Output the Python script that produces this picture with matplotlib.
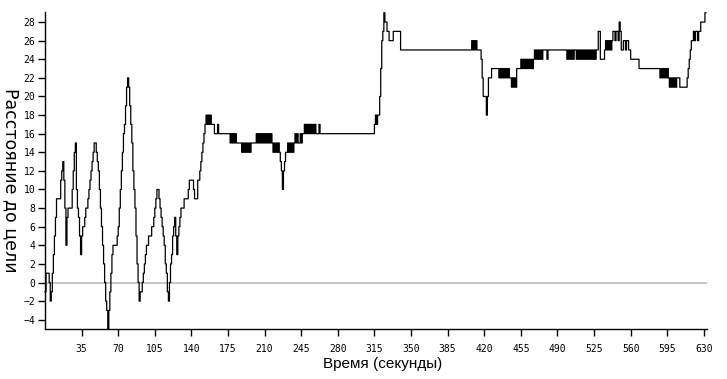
import numpy as np
import matplotlib.pyplot as plt

# distance to target, one value per second (t = 0 .. 632)
distance = [
    -1, 1, 1, 1, 0, -2, -1, 1, 3, 5,          # 0
    7, 9, 9, 9, 9, 11, 12, 13, 11, 8,         # 10
    4, 7, 8, 8, 8, 8, 10, 12, 14, 15,         # 20
    10, 8, 7, 5, 3, 5, 6, 6, 7, 8,            # 30
    8, 9, 10, 11, 12, 13, 14, 15, 15, 14,     # 40
    13, 12, 10, 8, 6, 4, 2, 0, -2, -3,        # 50
    -5, -3, -1, 1, 3, 4, 4, 4, 4, 5,          # 60
    6, 8, 10, 12, 14, 16, 17, 19, 21, 22,     # 70
    21, 19, 17, 15, 12, 10, 8, 5, 2, 0,       # 80
    -2, -1, -1, 0, 1, 2, 3, 4, 4, 5,          # 90
    5, 5, 6, 6, 7, 8, 9, 10, 10, 9,           # 100
    8, 7, 6, 5, 4, 2, 1, -1, -2, 0,           # 110
    2, 3, 5, 6, 7, 5, 3, 5, 6, 7,             # 120
    8, 8, 8, 9, 9, 9, 9, 10, 11, 11,          # 130
    11, 11, 10, 9, 9, 9, 11, 11, 12, 13,      # 140
    14, 15, 16, 17, 18, 17, 18, 17, 18, 17,   # 150
    17, 17, 16, 16, 16, 17, 16, 16, 16, 16,   # 160
    16, 16, 16, 16, 16, 16, 16, 15, 16, 15,   # 170
    16, 15, 16, 15, 15, 15, 15, 15, 14, 15,   # 180
    14, 15, 14, 15, 14, 15, 14, 15, 15, 15,   # 190
    15, 15, 16, 15, 16, 15, 16, 15, 16, 15,   # 200
    16, 15, 16, 15, 16, 15, 16, 15, 14, 15,   # 210
    14, 15, 14, 15, 14, 13, 12, 10, 12, 13,   # 220
    14, 14, 15, 14, 15, 14, 15, 14, 15, 16,   # 230
    15, 16, 15, 15, 16, 15, 16, 16, 17, 16,   # 240
    17, 16, 17, 16, 17, 16, 17, 16, 17, 16,   # 250
    16, 16, 17, 16, 16, 16, 16, 16, 16, 16,   # 260
    16, 16, 16, 16, 16, 16, 16, 16, 16, 16,   # 270
    16, 16, 16, 16, 16, 16, 16, 16, 16, 16,   # 280
    16, 16, 16, 16, 16, 16, 16, 16, 16, 16,   # 290
    16, 16, 16, 16, 16, 16, 16, 16, 16, 16,   # 300
    16, 16, 16, 16, 16, 17, 18, 17, 18, 18,   # 310
    20, 23, 26, 27, 29, 28, 28, 27, 27, 26,   # 320
    26, 26, 26, 27, 27, 27, 27, 27, 27, 27,   # 330
    25, 25, 25, 25, 25, 25, 25, 25, 25, 25,   # 340
    25, 25, 25, 25, 25, 25, 25, 25, 25, 25,   # 350
    25, 25, 25, 25, 25, 25, 25, 25, 25, 25,   # 360
    25, 25, 25, 25, 25, 25, 25, 25, 25, 25,   # 370
    25, 25, 25, 25, 25, 25, 25, 25, 25, 25,   # 380
    25, 25, 25, 25, 25, 25, 25, 25, 25, 25,   # 390
    25, 25, 25, 25, 25, 25, 25, 25, 26, 25,   # 400
    26, 25, 26, 25, 25, 25, 25, 24, 22, 20,   # 410
    20, 20, 18, 20, 22, 22, 22, 23, 23, 23,   # 420
    23, 23, 23, 23, 22, 23, 22, 23, 22, 23,   # 430
    22, 23, 22, 23, 22, 22, 21, 22, 21, 22,   # 440
    21, 23, 23, 23, 23, 24, 23, 24, 23, 24,   # 450
    23, 24, 23, 24, 23, 24, 23, 24, 25, 24,   # 460
    25, 24, 25, 24, 25, 24, 25, 25, 25, 25,   # 470
    24, 25, 25, 25, 25, 25, 25, 25, 25, 25,   # 480
    25, 25, 25, 25, 25, 25, 25, 25, 25, 24,   # 490
    25, 24, 25, 24, 25, 24, 25, 25, 24, 25,   # 500
    24, 25, 24, 25, 24, 25, 24, 25, 24, 25,   # 510
    24, 25, 24, 25, 24, 25, 24, 25, 25, 27,   # 520
    27, 24, 24, 24, 24, 25, 26, 25, 26, 25,   # 530
    26, 25, 26, 27, 27, 26, 27, 27, 26, 28,   # 540
    27, 25, 25, 26, 26, 25, 26, 26, 25, 25,   # 550
    24, 24, 24, 24, 24, 24, 24, 24, 23, 23,   # 560
    23, 23, 23, 23, 23, 23, 23, 23, 23, 23,   # 570
    23, 23, 23, 23, 23, 23, 23, 23, 22, 23,   # 580
    22, 23, 22, 23, 22, 23, 22, 21, 22, 21,   # 590
    22, 21, 22, 21, 22, 22, 22, 21, 21, 21,   # 600
    21, 21, 21, 21, 22, 23, 24, 25, 26, 26,   # 610
    27, 26, 27, 27, 26, 27, 27, 28, 28, 28,   # 620
    28, 29, 29,                               # 630
]
seconds = np.arange(len(distance))

x_ticks = list(range(35, 631, 35))
y_ticks = list(range(-4, 29, 2))

fig = plt.figure(figsize=(7.27, 3.79), dpi=100)
ax = fig.add_axes([0.0619, 0.1319, 0.9106, 0.8364])

ax.axhline(0, color='#c0c0c0', lw=1.3, zorder=1)
ax.step(seconds, distance, where='post', color='black', lw=0.9, zorder=2, clip_on=False)

ax.set_xlim(0, 633)
ax.set_ylim(-5, 29.08)
ax.set_xticks(x_ticks)
ax.set_yticks(y_ticks)

for side in ['top', 'right']:
    ax.spines[side].set_visible(False)
for side in ['left', 'bottom']:
    ax.spines[side].set_linewidth(1.0)

ax.tick_params(axis='both', direction='out', length=5, width=1.0, labelsize=7)
ax.tick_params(axis='x', pad=6)
ax.tick_params(axis='y', pad=2)
for lbl in ax.get_xticklabels() + ax.get_yticklabels():
    lbl.set_family('DejaVu Sans Mono')

ax.set_xlabel('Время (секунды)', family='Liberation Sans', fontsize=11, labelpad=2)
ax.xaxis.set_label_coords(0.51, -0.088)
ax.set_ylabel('Расстояние до цели', family='DejaVu Sans', fontsize=12.5, rotation=-90,
              va='center')
ax.yaxis.set_label_coords(-0.052, 0.47)

fig.savefig('out.png', dpi=100)
